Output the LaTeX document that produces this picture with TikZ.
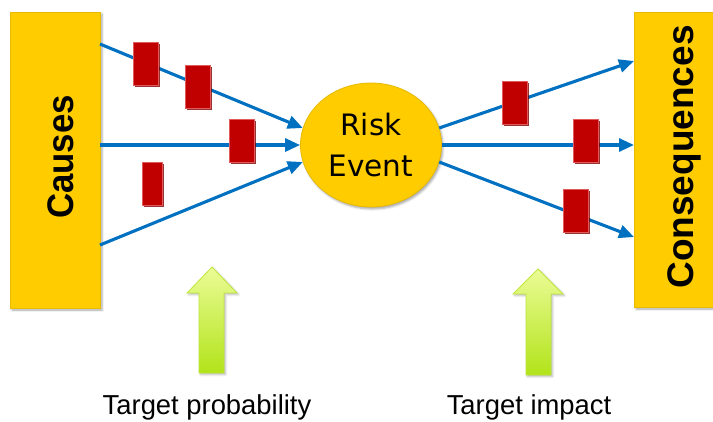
\documentclass[tikz,border=0pt]{standalone}
\usepackage{fontspec}
\setmainfont{Liberation Sans}
\newfontfamily\eventfont{DejaVu Sans}
\usetikzlibrary{arrows.meta,shapes.geometric,shadows.blur}

\definecolor{boxgold}{HTML}{FFCC00}
\definecolor{goldedge}{HTML}{E8BA00}
\definecolor{flowblue}{HTML}{0070C0}
\definecolor{barrier}{HTML}{C00000}
\definecolor{barrierlight}{HTML}{E25A5A}
\definecolor{barrierdark}{HTML}{7A0000}
\definecolor{liftTop}{HTML}{EBFC96}
\definecolor{liftBottom}{HTML}{B2E31A}
\definecolor{liftEdge}{HTML}{BEE63C}

\tikzset{
  sidebox/.style={rectangle, fill=boxgold, draw=goldedge, line width=0.4pt,
    inner sep=0pt, blur shadow={shadow xshift=2pt, shadow yshift=-2pt,
    shadow blur steps=4, shadow opacity=35}},
  sidetext/.style={font=\fontsize{37}{40}\selectfont\bfseries, text=black,
    rotate=90, anchor=base, inner sep=0pt},
  eventnode/.style={ellipse, fill=boxgold, draw=goldedge, line width=0.8pt,
    minimum width=141pt, minimum height=124pt, inner sep=0pt, align=center,
    font=\eventfont\fontsize{29.5}{41}\selectfont,
    blur shadow={shadow xshift=1.5pt, shadow yshift=-2pt,
    shadow blur steps=4, shadow opacity=35}},
  flow/.style={draw=flowblue, line width=3.1pt,
    -{Triangle[length=15pt,width=13pt]}},
  barrierbox/.style={rectangle, fill=barrier, draw=barrierlight,
    line width=0.6pt, minimum width=25pt, minimum height=43pt, inner sep=0pt,
    drop shadow={shadow xshift=1.6pt, shadow yshift=-1.6pt,
    fill=barrierdark, opacity=0.8}},
  liftarrow/.style={top color=liftTop, bottom color=liftBottom,
    draw=liftEdge, line width=0.8pt, line join=miter,
    blur shadow={shadow xshift=1.5pt, shadow yshift=-1.5pt,
    shadow blur steps=3, shadow opacity=30}},
  caption/.style={font=\fontsize{27.4}{30}\selectfont, text=black,
    anchor=base, inner sep=0pt}
}

\begin{document}
\begin{tikzpicture}[x=1pt, y=-1pt]
  \useasboundingbox (0,0) rectangle (713,421);

  % side panels
  \node[sidebox, minimum width=90pt, minimum height=296pt] (causes) at (55,160) {};
  \node[sidebox, minimum width=80pt, minimum height=295pt] (cons) at (674,159.5) {};
  \node[sidetext, xscale=0.94] (causesLbl) at (73,157) {Causes};
  \node[sidetext] (consLbl) at (693,157) {Consequences};

  % central event
  \node[eventnode] (risk) at (371,145) {Risk\\Event};

  % cause paths into the event
  \coordinate (c1) at (100,44);
  \coordinate (c2) at (100,145);
  \coordinate (c3) at (100,245);
  \draw[flow] (c1) -- (risk.166);
  \draw[flow] (c2) -- (risk.west);
  \draw[flow] (c3) -- (risk.194);

  % consequence paths out of the event
  \coordinate (q1) at (634,61);
  \coordinate (q2) at (634,145);
  \coordinate (q3) at (634,237);
  \draw[flow] (risk.14) -- (q1);
  \draw[flow] (risk.east) -- (q2);
  \draw[flow] (risk.-14) -- (q3);

  % barriers
  \node[barrierbox] (b1) at (146,63.5) {};
  \node[barrierbox] (b2) at (198,86.5) {};
  \node[barrierbox] (b3) at (242,141) {};
  \node[barrierbox, minimum width=20pt] (b4) at (152,183.5) {};
  \node[barrierbox] (b5) at (514.5,102.5) {};
  \node[barrierbox] (b6) at (585.5,140.5) {};
  \node[barrierbox] (b7) at (575.5,210.5) {};

  % upward arrows
  \path[liftarrow] (212,267) -- (237,293) -- (224,293) -- (224,373)
    -- (199,373) -- (199,293) -- (187,293) -- cycle;
  \path[liftarrow] (538,269) -- (563,294) -- (551,294) -- (551,375)
    -- (526,375) -- (526,294) -- (513,294) -- cycle;

  % captions
  \node[caption] (probLbl) at (207,414) {Target probability};
  \node[caption] (impactLbl) at (529,414) {Target impact};
\end{tikzpicture}
\end{document}
